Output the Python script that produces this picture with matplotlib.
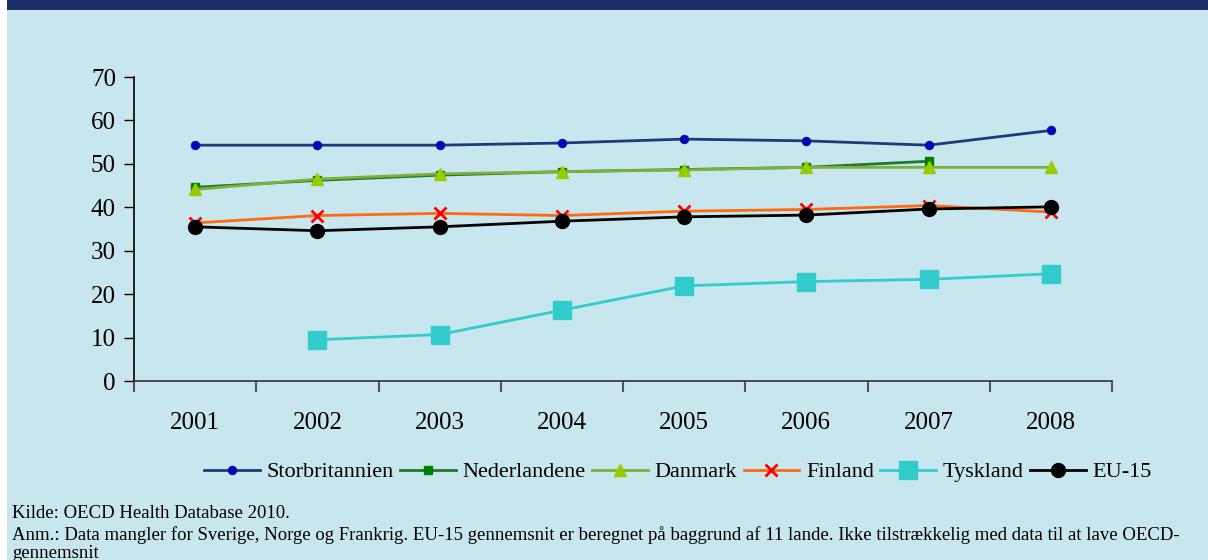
import matplotlib
matplotlib.use("Agg")
import matplotlib.pyplot as plt
import numpy as np
from matplotlib.patches import Rectangle

years = ["2001", "2002", "2003", "2004", "2005", "2006", "2007", "2008"]
storbritannien = [54.3, 54.3, 54.3, 54.8, 55.7, 55.3, 54.3, 57.7]
nederlandene = [44.6, 46.2, 47.4, 48.2, 48.7, 49.2, 50.6, np.nan]
danmark = [44.1, 46.5, 47.7, 48.2, 48.6, 49.2, 49.2, 49.2]
finland = [36.4, 38.1, 38.6, 38.1, 39.1, 39.5, 40.4, 38.9]
tyskland = [np.nan, 9.5, 10.7, 16.3, 21.9, 22.9, 23.4, 24.7]
eu15 = [35.5, 34.6, 35.5, 36.8, 37.8, 38.2, 39.6, 40.1]

bg = "#c8e6ee"
plt.rcParams["font.family"] = ["Liberation Serif", "DejaVu Serif"]

fig = plt.figure(figsize=(12.08, 5.6), dpi=100)
fig.patch.set_facecolor("white")
fig.patches.append(Rectangle((7/1208, 0), 1 - 7/1208, 1, transform=fig.transFigure,
                             facecolor=bg, edgecolor="none", zorder=-10))
fig.patches.append(Rectangle((7/1208, 1 - 10/560), 1 - 7/1208, 10/560, transform=fig.transFigure,
                             facecolor="#1d2f6b", edgecolor="none", zorder=-9))

ax = fig.add_axes([134/1208, 1 - 381/560, (1112-134)/1208, (381-77)/560])
ax.set_facecolor("none")
x = np.arange(len(years))

ax.plot(x, storbritannien, color="#1f3a7a", lw=2, marker="o", ms=6,
        mfc="#0000cc", mec="#0a1a80", mew=0.8, label="Storbritannien")
ax.plot(x, nederlandene, color="#1e7a2e", lw=2, marker="s", ms=6,
        mfc="#008000", mec="#008000", label="Nederlandene")
ax.plot(x, danmark, color="#7fb13a", lw=2, marker="^", ms=8,
        mfc="#99cc00", mec="#99cc00", label="Danmark")
ax.plot(x, finland, color="#ff6a10", lw=2, marker="x", ms=8,
        mec="#ff0000", mew=2, label="Finland")
ax.plot(x, tyskland, color="#33cccc", lw=2, marker="s", ms=13,
        mfc="#33cccc", mec="#33cccc", label="Tyskland")
ax.plot(x, eu15, color="black", lw=2, marker="o", ms=10,
        mfc="black", mec="black", label="EU-15")

ax.set_xlim(-0.5, 7.5)
ax.set_ylim(0, 70)
ax.set_yticks(range(0, 71, 10))
ax.set_xticks(np.arange(-0.5, 8, 1))
ax.set_xticklabels([])
ax.set_xticks(x, minor=True)
ax.set_xticklabels(years, minor=True)
ax.tick_params(axis="x", which="minor", length=0, pad=22, labelsize=18)
ax.tick_params(axis="x", which="major", length=8, width=1.5, color="#555555", direction="out")
ax.tick_params(axis="y", length=7, width=1, direction="out", labelsize=18, pad=6)
for s in ["top", "right"]:
    ax.spines[s].set_visible(False)
ax.spines["left"].set_linewidth(1.2)
ax.spines["bottom"].set_linewidth(1.2)
ax.spines["bottom"].set_color("#333333")

leg = fig.legend(loc="center", bbox_to_anchor=(678/1208, 1 - 472/560), ncol=6,
                 frameon=False, fontsize=16, handlelength=2.5, handletextpad=0.3,
                 columnspacing=0.3)

fs = 13.5
fig.text(12/1208, 1 - 514/560, "Kilde: OECD Health Database 2010.", fontsize=fs,
         va="center", ha="left")
fig.text(12/1208, 1 - 535/560,
         "Anm.: Data mangler for Sverige, Norge og Frankrig. EU-15 gennemsnit er beregnet på baggrund af 11 lande. Ikke tilstrækkelig med data til at lave OECD-",
         fontsize=fs, va="center", ha="left")
fig.text(12/1208, 1 - 554/560, "gennemsnit", fontsize=fs, va="center", ha="left")

fig.savefig("out.png", dpi=100, facecolor=fig.get_facecolor())
